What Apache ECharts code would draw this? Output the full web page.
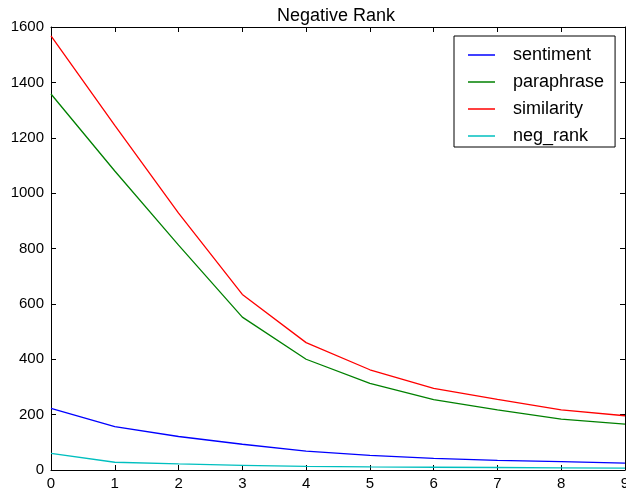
<!DOCTYPE html>
<html>
<head>
<meta charset="utf-8">
<script src="https://cdn.jsdelivr.net/npm/echarts@6/dist/echarts.min.js"></script>
<style>html,body{margin:0;padding:0;background:#fff;}#c{width:626px;height:498px;}</style>
</head>
<body>
<div id="c"></div>
<script>
var xValues = [0, 1, 2, 3, 4, 5, 6, 7, 8, 9];
var sentiment = [223, 157, 121, 93, 68, 53, 42, 35, 30, 25];
var paraphrase = [1358, 1080, 812, 552, 400, 313, 254, 217, 184, 166];
var similarity = [1568, 1245, 928, 634, 460, 362, 295, 255, 217, 196];
var negRank = [60, 28, 22, 17, 13, 11, 10, 9, 8, 7];
var seriesNames = ['sentiment', 'paraphrase', 'similarity', 'neg_rank'];
var seriesColors = ['#0000ff', '#008000', '#ff0000', '#00bfbf'];
var seriesData = [sentiment, paraphrase, similarity, negRank];

var font = '"Liberation Sans", Arial, Helvetica, sans-serif';
function pairs(arr) { return arr.map(function (v, i) { return [xValues[i], v]; }); }

function mkAxis(pos, min, max, interval, showLabel, margin) {
  return {
    type: 'value', position: pos, min: min, max: max, interval: interval,
    axisLine: { show: true, onZero: false, lineStyle: { color: '#000', width: 1 } },
    axisTick: { show: true, inside: true, length: 5, lineStyle: { color: '#000', width: 1 } },
    splitLine: { show: false },
    axisLabel: {
      show: showLabel, fontFamily: font, fontSize: 15, color: '#000', margin: margin,
      formatter: function (v) { return String(v); }
    }
  };
}

var chart = echarts.init(document.getElementById('c'), null, { renderer: 'canvas' });
chart.setOption({
  animation: false,
  backgroundColor: '#fff',
  title: {
    text: 'Negative Rank',
    left: 277, top: 7, padding: 0,
    textStyle: { fontFamily: font, fontSize: 18, fontWeight: 'normal', color: '#000' }
  },
  grid: { left: 51, right: 1, top: 27, bottom: 28, containLabel: false, outerBoundsMode: 'none' },
  legend: {
    data: seriesNames,
    orient: 'vertical',
    left: 454, top: 36,
    padding: [10, 11, 2, 14],
    backgroundColor: '#fff',
    borderColor: '#000', borderWidth: 1,
    icon: 'rect',
    itemWidth: 27, itemHeight: 1.5,
    itemGap: 9,
    textStyle: { fontFamily: font, fontSize: 18, color: '#000', padding: [0, 0, 0, 13], lineHeight: 18 }
  },
  xAxis: [
    mkAxis('bottom', 0, 9, 1, true, 6),
    mkAxis('top', 0, 9, 1, false, 6)
  ],
  yAxis: [
    mkAxis('left', 0, 1600, 200, true, 7),
    mkAxis('right', 0, 1600, 200, false, 7)
  ],
  series: seriesNames.map(function (n, i) {
    return {
      name: n, type: 'line', data: pairs(seriesData[i]),
      xAxisIndex: 0, yAxisIndex: 0,
      showSymbol: false, symbol: 'none',
      itemStyle: { color: seriesColors[i] },
      lineStyle: { color: seriesColors[i], width: 1.3 }
    };
  })
});
</script>
</body>
</html>
